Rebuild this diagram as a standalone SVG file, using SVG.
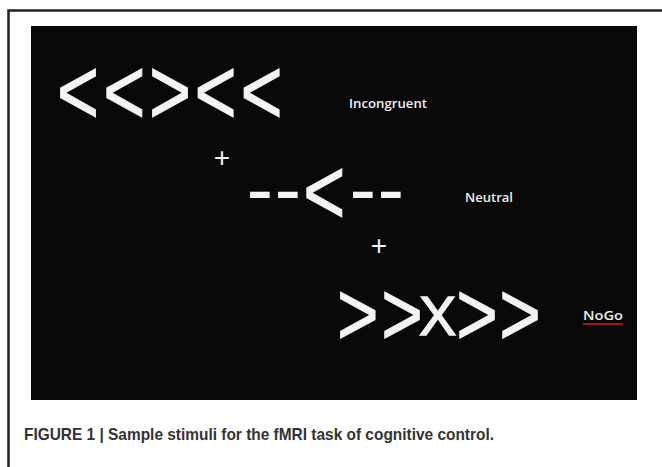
<svg xmlns="http://www.w3.org/2000/svg" width="662" height="467" viewBox="0 0 662 467">
<style>
.stim{font-family:"Liberation Sans",Arial,sans-serif;font-size:95px;fill:#f4f4f4;stroke:#f4f4f4;stroke-width:1px}
.dash{font-family:"Liberation Sans",Arial,sans-serif;font-size:80px;fill:#f4f4f4}
.lbl{font-family:"Open Sans","Noto Sans",sans-serif;font-weight:600;font-size:12.5px;fill:#f0f0f0}
.fix{font-family:"Liberation Sans",Arial,sans-serif;font-size:28px;fill:#f4f4f4}
.cap{font-family:"Liberation Sans",Arial,sans-serif;font-weight:bold;font-size:17px;fill:#333}
</style>
<rect width="662" height="467" fill="#fff"/>
<path d="M8.5 467 V10.5 H662" fill="none" stroke="#222" stroke-width="2.5"/>
<rect x="31" y="26" width="606" height="374" fill="#080808"/>
<g id="incongruent">
<g transform="scale(0.76 1)">
<text class="stim" x="75 136 196 256 316.5" y="124">&lt;&lt;&gt;&lt;&lt;</text>
</g>
<text class="lbl" x="349" y="108" textLength="78" lengthAdjust="spacingAndGlyphs">Incongruent</text>
</g>
<g id="fix1"><text class="fix" x="222" y="167" text-anchor="middle">+</text></g>
<g id="neutral">
<text class="dash" x="246.5 274.5" y="216">--</text>
<g transform="scale(0.76 1)">
<text class="stim" x="399" y="224">&lt;</text>
</g>
<text class="dash" x="349.5 377.5" y="216">--</text>
<text class="lbl" x="465" y="202" textLength="48" lengthAdjust="spacingAndGlyphs">Neutral</text>
</g>
<g id="fix2"><text class="fix" x="379" y="255" text-anchor="middle">+</text></g>
<g id="nogo">
<g transform="scale(0.79 1)">
<text class="stim" x="426.5 482.5" y="345" style="font-size:90px">&gt;&gt;</text>
<text class="stim" x="577.5 632" y="345" style="font-size:90px">&gt;&gt;</text>
</g>
<text class="stim" x="419" y="335" style="font-size:56px;stroke-width:1.4px">X</text>
<text class="lbl" x="583" y="320" textLength="40" lengthAdjust="spacingAndGlyphs">NoGo</text>
<line x1="583" y1="324" x2="623" y2="324" stroke="#d02020" stroke-width="1.5"/>
</g>
<text class="cap" x="24" y="440" textLength="470" lengthAdjust="spacingAndGlyphs">FIGURE 1 | Sample stimuli for the fMRI task of cognitive control.</text>
</svg>
